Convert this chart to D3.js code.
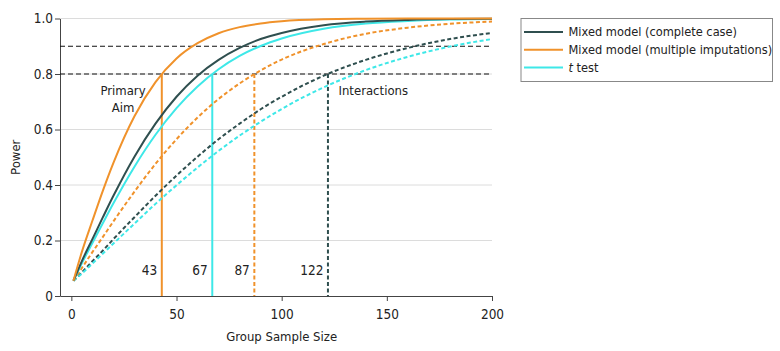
<!DOCTYPE html>
<html>
<head>
<meta charset="utf-8">
<script src="https://cdn.jsdelivr.net/npm/d3@7"></script>
<style>
  body { margin: 0; background: #fff; }
  text { font-family: "DejaVu Sans", sans-serif; font-stretch: condensed; fill: #222; }
</style>
</head>
<body>
<div id="chart"></div>
<script>
// group sample sizes where the curves were read
var sampleSizes = [1, 5, 10, 15, 20, 30, 40, 50, 60, 70, 80, 90, 100, 120, 140, 160, 180, 200];

// power values
var mixedCompletePrimary = [0.055, 0.126, 0.205, 0.284, 0.361, 0.502, 0.621, 0.718, 0.794, 0.851, 0.894, 0.926, 0.948, 0.976, 0.989, 0.995, 0.998, 0.999];
var mixedImputedPrimary  = [0.055, 0.159, 0.271, 0.380, 0.480, 0.648, 0.771, 0.856, 0.911, 0.947, 0.969, 0.982, 0.990, 0.997, 0.999, 1.0, 1.0, 1.0];
var tTestPrimary         = [0.055, 0.118, 0.191, 0.263, 0.334, 0.466, 0.581, 0.677, 0.755, 0.817, 0.865, 0.901, 0.928, 0.963, 0.982, 0.991, 0.996, 0.998];
var mixedCompleteInter   = [0.055, 0.085, 0.125, 0.164, 0.205, 0.284, 0.361, 0.434, 0.502, 0.565, 0.621, 0.673, 0.718, 0.794, 0.851, 0.894, 0.926, 0.948];
var mixedImputedInter    = [0.055, 0.101, 0.158, 0.213, 0.269, 0.376, 0.476, 0.565, 0.643, 0.710, 0.766, 0.813, 0.852, 0.908, 0.945, 0.967, 0.981, 0.989];
var tTestInter           = [0.055, 0.081, 0.117, 0.153, 0.189, 0.261, 0.332, 0.399, 0.463, 0.523, 0.578, 0.628, 0.674, 0.752, 0.814, 0.862, 0.899, 0.926];

// sample sizes needed for 80% power
var cutoffs = [43, 67, 87, 122];
var powerTargets = [0.8, 0.9];

var xTicks = [0, 50, 100, 150, 200];
var yTicks = [0, 0.2, 0.4, 0.6, 0.8, 1.0];
var legendLabels = ["Mixed model (complete case)", "Mixed model (multiple imputations)", "t test"];

var dark = "#2f4f4f", orange = "#f0922b", cyan = "#3ee8e8";

var margin = {top: 18.5, right: 288, bottom: 55, left: 60},
    width = 780 - margin.left - margin.right,
    height = 351 - margin.top - margin.bottom;

var svg = d3.select("#chart")
    .append("svg")
    .attr("width", 780)
    .attr("height", 351)
    .append("g")
    .attr("transform", "translate(" + margin.left + "," + margin.top + ")");

var x = d3.scaleLinear()
    .domain([-5.4, 200])
    .range([0, width]);

var y = d3.scaleLinear()
    .domain([0, 1])
    .range([height, 0]);

// light grid
svg.append("g")
    .selectAll("line")
    .data(yTicks.slice(1))
    .enter()
    .append("line")
    .attr("x1", 0)
    .attr("x2", width)
    .attr("y1", function (d) { return y(d); })
    .attr("y2", function (d) { return y(d); })
    .style("stroke", "#dcdcdc")
    .style("stroke-width", 1);

// axes
var xAxis = svg.append("g")
    .attr("transform", "translate(0," + height + ")")
    .call(d3.axisBottom(x).tickValues(xTicks).tickSize(5).tickSizeOuter(0).tickFormat(d3.format("d")));

var yAxis = svg.append("g")
    .call(d3.axisLeft(y).tickValues(yTicks).tickSize(5).tickSizeOuter(0)
        .tickFormat(function (d) { return d === 0 ? "0" : d3.format(".1f")(d); }));

[xAxis, yAxis].forEach(function (a) {
    a.select(".domain").style("stroke", "#444");
    a.selectAll(".tick line").style("stroke", "#444");
    a.selectAll("text").style("font-size", "13.5px").style("font-family", null).style("fill", "#222");
});
xAxis.selectAll("text").attr("dy", "1.1em");
yAxis.selectAll("text").attr("x", -7);

// x label
svg.append("text")
    .attr("x", x(100))
    .attr("y", height + 45)
    .style("text-anchor", "middle")
    .style("font-size", "13px")
    .text("Group Sample Size");

// y label
svg.append("text")
    .attr("transform", "rotate(-90)")
    .attr("x", -y(0.5))
    .attr("y", -40)
    .style("text-anchor", "middle")
    .style("font-size", "13px")
    .text("Power");

// target power lines
svg.append("g")
    .selectAll("line")
    .data(powerTargets)
    .enter()
    .append("line")
    .attr("x1", 0)
    .attr("x2", width)
    .attr("y1", function (d) { return y(d); })
    .attr("y2", function (d) { return y(d); })
    .style("stroke", "#111")
    .style("stroke-width", 1.1)
    .style("stroke-dasharray", "5,3");

// vertical drop lines at the needed sample sizes
var dropColors = [orange, cyan, orange, dark];
var dropDashed = [false, false, true, true];
svg.append("g")
    .selectAll("line")
    .data(cutoffs)
    .enter()
    .append("line")
    .attr("x1", function (d) { return x(d); })
    .attr("x2", function (d) { return x(d); })
    .attr("y1", y(0.8))
    .attr("y2", y(0))
    .style("stroke", function (d, i) { return dropColors[i]; })
    .style("stroke-width", 2)
    .style("stroke-dasharray", function (d, i) { return dropDashed[i] ? "4,2.5" : null; });

svg.append("g")
    .selectAll("text")
    .data(cutoffs)
    .enter()
    .append("text")
    .attr("x", function (d) { return x(d) - 4.5; })
    .attr("y", y(0.077))
    .style("text-anchor", "end")
    .style("font-size", "13.5px")
    .text(function (d) { return d; });

// power curves
var series = [
    {values: mixedCompleteInter, color: dark, dashed: true},
    {values: tTestInter, color: cyan, dashed: true},
    {values: mixedImputedInter, color: orange, dashed: true},
    {values: tTestPrimary, color: cyan, dashed: false},
    {values: mixedCompletePrimary, color: dark, dashed: false},
    {values: mixedImputedPrimary, color: orange, dashed: false}
];

var line = d3.line()
    .x(function (d, i) { return x(sampleSizes[i]); })
    .y(function (d) { return y(d); })
    .curve(d3.curveMonotoneX);

svg.append("g")
    .selectAll("path")
    .data(series)
    .enter()
    .append("path")
    .attr("d", function (d) { return line(d.values); })
    .style("fill", "none")
    .style("stroke", function (d) { return d.color; })
    .style("stroke-width", 2)
    .style("stroke-dasharray", function (d) { return d.dashed ? "4,2.5" : null; });

// annotations
var aim = svg.append("text")
    .attr("x", 63)
    .attr("y", 76.5)
    .style("text-anchor", "middle")
    .style("font-size", "13px");
aim.append("tspan").attr("x", 63).text("Primary");
aim.append("tspan").attr("x", 63).attr("dy", 17).text("Aim");

svg.append("text")
    .attr("x", 278.5)
    .attr("y", 76.5)
    .style("font-size", "13px")
    .text("Interactions");

// legend
var legend = d3.select("svg").append("g")
    .attr("transform", "translate(521,18.5)");

legend.append("rect")
    .attr("width", 251.5)
    .attr("height", 63)
    .style("fill", "#fff")
    .style("stroke", "#888")
    .style("stroke-width", 1);

var legendColors = [dark, orange, cyan];
var rows = legend.selectAll(".row")
    .data(legendLabels)
    .enter()
    .append("g")
    .attr("transform", function (d, i) { return "translate(0," + (13.5 + i * 17.8) + ")"; });

rows.append("line")
    .attr("x1", 3)
    .attr("x2", 42)
    .style("stroke", function (d, i) { return legendColors[i]; })
    .style("stroke-width", 2);

rows.append("text")
    .attr("x", 47.5)
    .attr("dy", "0.35em")
    .style("font-size", "12.7px")
    .each(function (d) {
        var t = d3.select(this);
        if (d === "t test") {
            t.append("tspan").style("font-style", "italic").text("t");
            t.append("tspan").text(" test");
        } else {
            t.text(d);
        }
    });
</script>
</body>
</html>
